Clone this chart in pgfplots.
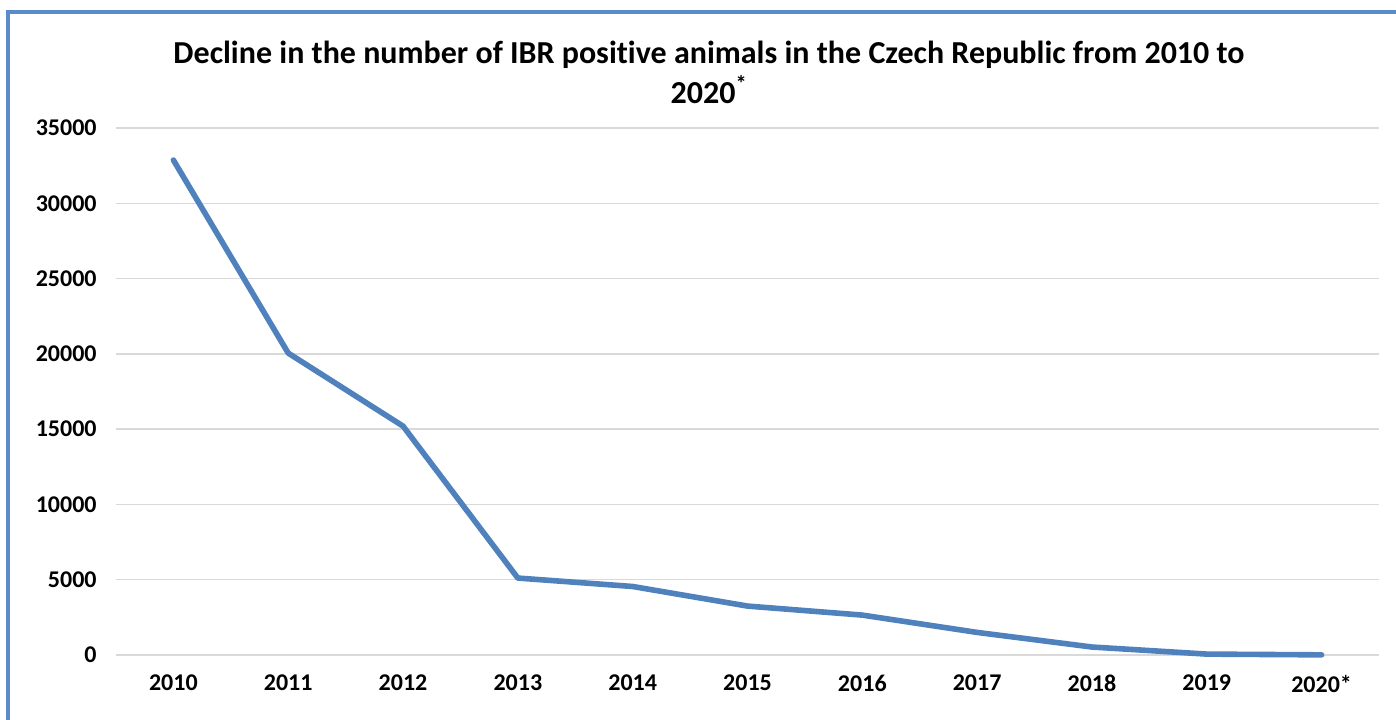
\documentclass[border=0pt]{standalone}
\usepackage{pgfplots}
\pgfplotsset{compat=1.18}
\usepackage{fontspec}
\setmainfont[Ligatures={NoCommon}]{Carlito}
\definecolor{lineblue}{HTML}{4F81BD}
\definecolor{framblue}{HTML}{5B8BC9}
\definecolor{gridgray}{HTML}{D9D9D9}
\begin{document}
\begin{tikzpicture}
\path[use as bounding box] (0pt,0pt) rectangle (1047pt,539.25pt);
\draw[framblue, line width=3pt] (6pt,-20pt) -- (6pt,530.5pt) -- (1080pt,530.5pt);
\node[align=center, anchor=center, font=\fontsize{24}{30}\selectfont\bfseries] at (531.75pt,485.25pt)
  {Decline in the number of IBR positive animals in the Czech Republic from 2010 to\\2020\textsuperscript{*}};
\begin{axis}[
  at={(87pt,48pt)}, anchor=south west,
  scale only axis, width=947.25pt, height=395.25pt,
  xmin=-0.5, xmax=10.5, ymin=0, ymax=35000,
  xtick={0,1,2,3,4,5,6,7,8,9,10},
  xticklabels={2010,2011,2012,2013,2014,2015,2016,2017,2018,2019,2020*},
  ytick={0,5000,10000,15000,20000,25000,30000,35000},
  scaled y ticks=false,
  axis line style={draw=none},
  tick style={draw=none},
  ymajorgrids,
  grid style={gridgray, line width=1.1pt},
  /pgf/number format/assume math mode=true,
  /pgf/number format/1000 sep={},
  /pgf/number format/fixed,
  tick label style={font=\fontsize{18}{21}\selectfont\bfseries},
  yticklabel style={xshift=-11pt},
  xticklabel style={yshift=-11.5pt},
  clip=false,
]
\addplot[lineblue, line width=4.2pt, line join=round, line cap=round] coordinates {
  (0,32870) (1,20050) (2,15200) (3,5110) (4,4550) (5,3250) (6,2650) (7,1500) (8,530) (9,60) (10,10)
};
\end{axis}
\end{tikzpicture}
\end{document}
